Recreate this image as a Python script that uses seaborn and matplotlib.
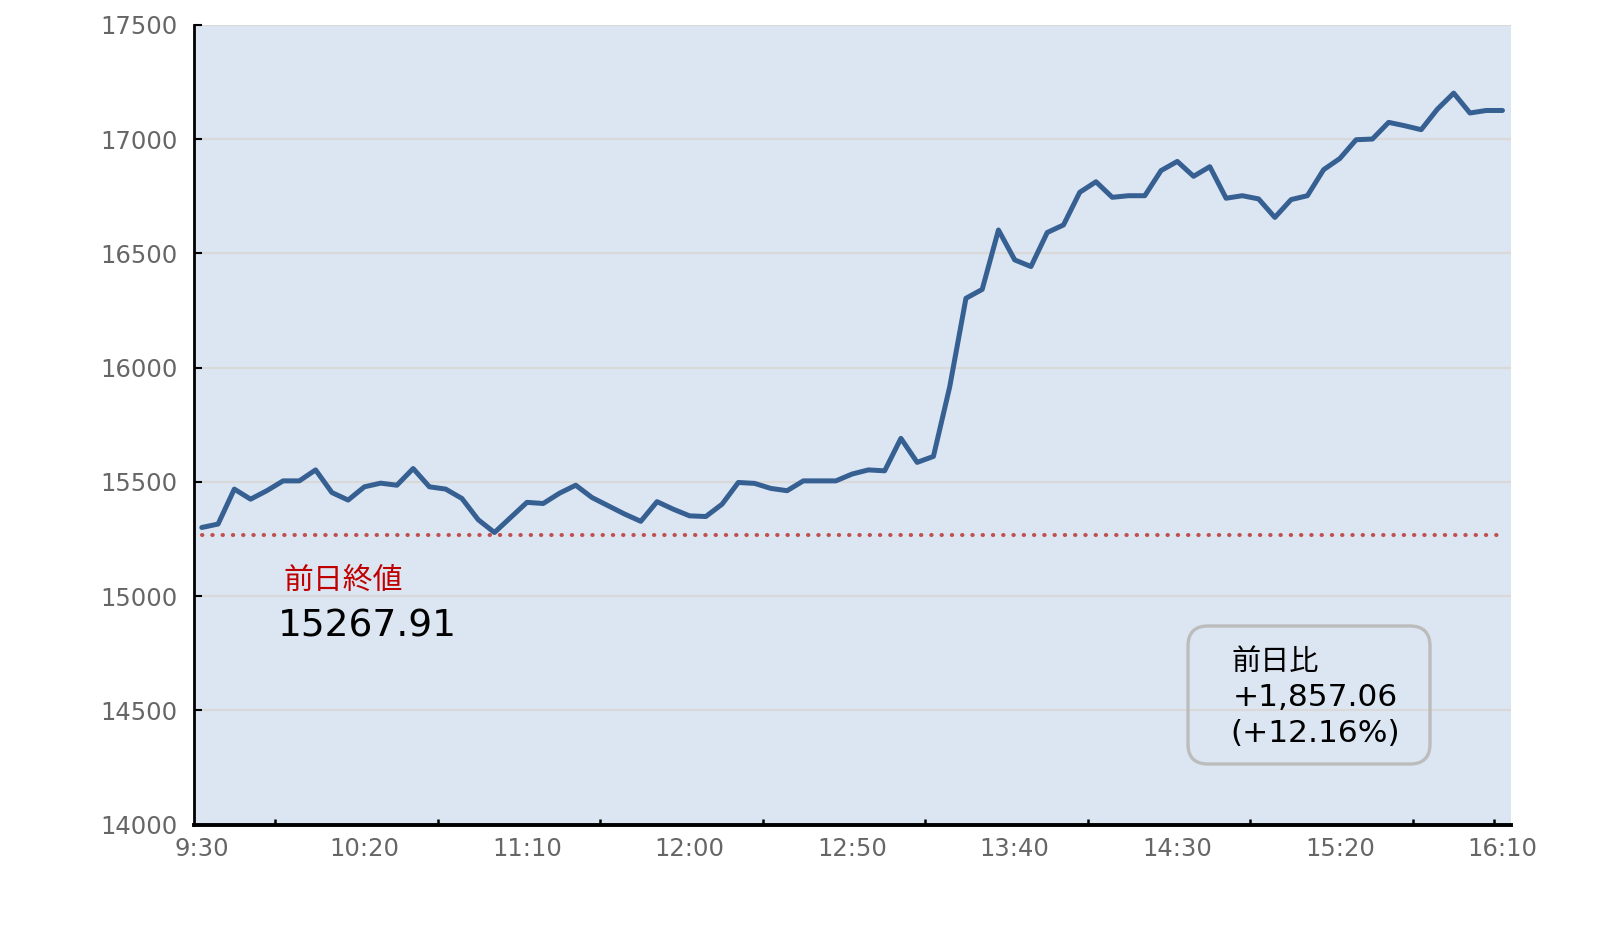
import numpy as np
import pandas as pd
import matplotlib
matplotlib.use("Agg")
import matplotlib.pyplot as plt
import seaborn as sns
from matplotlib.patches import FancyBboxPatch

# =====================================================
# Data (5-minute intraday values)
# =====================================================
prices = [
    15300, 15315, 15468, 15424, 15461, 15504, 15504, 15552, 15453, 15420,
    15478, 15494, 15485, 15558, 15478, 15468, 15427, 15334, 15278, 15344,
    15410, 15405, 15450, 15485, 15431, 15395, 15359, 15327, 15413, 15380,
    15351, 15348, 15402, 15497, 15493, 15471, 15461, 15504, 15504, 15504,
    15534, 15552, 15548, 15690, 15585, 15611, 15915, 16303, 16342, 16602,
    16471, 16442, 16591, 16624, 16767, 16813, 16745, 16752, 16752, 16862,
    16902, 16837, 16879, 16741, 16752, 16738, 16657, 16735, 16752, 16866,
    16915, 16997, 17000, 17073, 17058, 17041, 17131, 17201, 17114, 17125,
    17125,
]
tick_labels = ["9:30", "10:20", "11:10", "12:00", "12:50",
               "13:40", "14:30", "15:20", "16:10"]
y_ticks = [14000, 14500, 15000, 15500, 16000, 16500, 17000, 17500]
prev_close = 15267.91
prev_close_label = "前日終値"
change_title = "前日比"
change_abs = "+1,857.06"
change_pct = "(+12.16%)"

df = pd.DataFrame({"idx": np.arange(len(prices)), "price": prices})

# =====================================================
# Style
# =====================================================
sns.set_style("white")
# wide latin digits from DejaVu, kanji fall back to Noto CJK
plt.rcParams["font.family"] = ["DejaVu Sans", "Noto Sans CJK JP"]

BG = "#dce6f2"
LINE = "#376092"
RED = "#c0504d"
GRAY_TXT = "#666666"

fig = plt.figure(figsize=(16.06, 9.32), dpi=100)
ax = fig.add_axes([0.121, 0.1153, 0.8201, 0.8581])
ax.set_facecolor(BG)

sns.lineplot(data=df, x="idx", y="price", ax=ax, color=LINE,
             linewidth=3.6, solid_joinstyle="round", solid_capstyle="round")

ax.plot([df["idx"].iloc[0], df["idx"].iloc[-1]], [prev_close, prev_close],
        color=RED, linewidth=2.9, linestyle=(0, (0.1, 2.45)),
        dash_capstyle="round")

# =====================================================
# Axes
# =====================================================
ax.set_xlim(-0.46, 80.55)
ax.set_ylim(14000, 17500)
ax.set_yticks(y_ticks)
ax.set_yticklabels([str(v) for v in y_ticks])
ax.set_xticks(np.arange(0, len(prices), 10))
ax.set_xticklabels(tick_labels)
ax.set_xticks(list(np.arange(4.5, 80, 10)) + [79.5], minor=True)
ax.set_xlabel("")
ax.set_ylabel("")

ax.grid(axis="y", color="#d9d9d9", linewidth=1.6)
ax.set_axisbelow(True)

for s in ["top", "right"]:
    ax.spines[s].set_visible(False)
ax.spines["left"].set_color("black")
ax.spines["left"].set_linewidth(2.0)
ax.spines["bottom"].set_color("black")
ax.spines["bottom"].set_linewidth(2.8)

ax.tick_params(axis="y", direction="in", length=6, width=1.5, color="black",
               labelsize=17.5, labelcolor=GRAY_TXT, pad=12, left=True)
ax.tick_params(axis="x", which="major", length=0, labelsize=17.5,
               labelcolor=GRAY_TXT, pad=9)
ax.tick_params(axis="x", which="minor", direction="in", length=4, width=1.8,
               color="black", bottom=True)

# =====================================================
# Annotations
# =====================================================
ax.text(5.05, 15067, prev_close_label, color="#c00000", fontsize=21.5,
        ha="left", va="center", family="Noto Sans CJK JP")
ax.text(4.7, 14865, f"{prev_close:.2f}", color="black", fontsize=27,
        ha="left", va="center")

box = FancyBboxPatch((11.88, 1.68), 2.42, 1.38,
                     boxstyle="round,pad=0,rounding_size=0.2",
                     transform=fig.dpi_scale_trans, facecolor="none",
                     edgecolor="#bcbcbc", linewidth=2.4, zorder=5)
fig.add_artist(box)
fig.text(1231 / 1606, 1 - 662 / 932, change_title, fontsize=21,
         ha="left", va="center", color="black", family="Noto Sans CJK JP")
fig.text(1233 / 1606, 1 - 698 / 932, change_abs, fontsize=22.5,
         ha="left", va="center", color="black")
fig.text(1230 / 1606, 1 - 734 / 932, change_pct, fontsize=22.5,
         ha="left", va="center", color="black")

fig.savefig("out.png", dpi=100)
plt.close(fig)
